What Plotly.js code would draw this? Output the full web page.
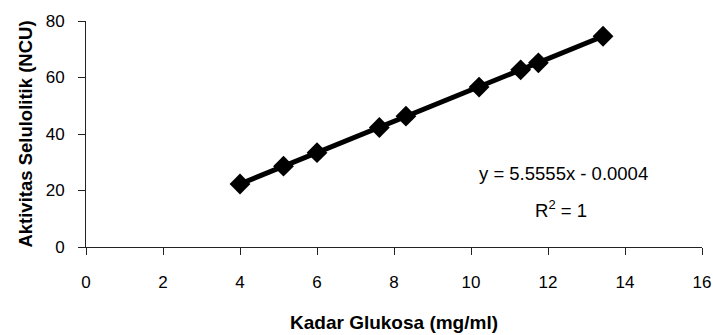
<!DOCTYPE html>
<html>
<head>
<meta charset="utf-8">
<script src="https://cdn.plot.ly/plotly-3.0.1.min.js"></script>
<style>html,body{margin:0;padding:0;background:#fff;}#chart{width:713px;height:335px;}</style>
</head>
<body>
<div id="chart"></div>
<script>
const kadarGlukosa = [4.0, 5.13, 6.0, 7.62, 8.31, 10.21, 11.29, 11.75, 13.43];
const aktivitas = [22.3, 28.6, 33.4, 42.3, 46.3, 56.6, 62.7, 65.2, 74.6];
const xTicks = [0, 2, 4, 6, 8, 10, 12, 14, 16];
const yTicks = [0, 20, 40, 60, 80];
const eqText = "y = 5.5555x - 0.0004";
const r2Text = "R<sup>2</sup> = 1";
const xTitle = "Kadar Glukosa (mg/ml)";
const yTitle = "Aktivitas Selulolitik (NCU)";

const font = "Liberation Sans, Arial, sans-serif";

const trace = {
  x: kadarGlukosa,
  y: aktivitas,
  mode: "lines+markers",
  type: "scatter",
  line: {color: "#000", width: 5},
  marker: {symbol: "diamond", size: 16, color: "#000"},
  showlegend: false,
  hoverinfo: "skip"
};

const layout = {
  width: 713, height: 335,
  margin: {l: 86, r: 11, t: 21, b: 88},
  paper_bgcolor: "#fff", plot_bgcolor: "#fff",
  font: {family: font, color: "#000", size: 17},
  xaxis: {
    range: [0, 16], tickvals: xTicks, ticktext: xTicks.map(String),
    showgrid: false, zeroline: false, showline: true, linecolor: "#222", linewidth: 1,
    ticks: "outside", ticklen: 7, tickcolor: "#222", tickwidth: 1,
    ticklabelstandoff: 13,
    tickfont: {family: font, size: 17, color: "#000"},
    title: {text: "<b>" + xTitle + "</b>", font: {family: font, size: 19, color: "#000"}, standoff: 24}
  },
  yaxis: {
    range: [0, 80], tickvals: yTicks, ticktext: yTicks.map(String),
    showgrid: false, zeroline: false, showline: true, linecolor: "#222", linewidth: 1,
    ticks: "outside", ticklen: 7, tickcolor: "#222", tickwidth: 1,
    ticklabelstandoff: 10,
    tickfont: {family: font, size: 17, color: "#000"},
    title: {text: "<b>" + yTitle + "</b>", font: {family: font, size: 18.5, color: "#000"}, standoff: 8}
  },
  annotations: [
    {x: 12.41, y: 25.9, xref: "x", yref: "y", text: eqText, showarrow: false,
     xanchor: "center", yanchor: "middle", font: {family: font, size: 18.5, color: "#000"}},
    {x: 12.35, y: 13.5, xref: "x", yref: "y", text: r2Text, showarrow: false,
     xanchor: "center", yanchor: "middle", font: {family: font, size: 18.5, color: "#000"}}
  ]
};

Plotly.newPlot("chart", [trace], layout, {displayModeBar: false, staticPlot: true});
</script>
</body>
</html>
